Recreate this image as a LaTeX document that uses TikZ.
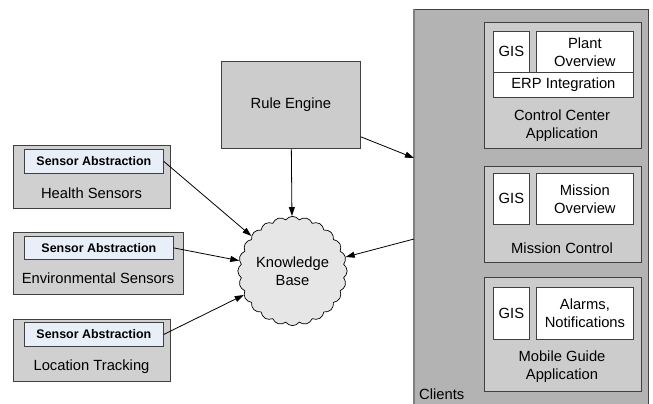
\documentclass[tikz,border=0pt]{standalone}
\usepackage{fontspec}
\setmainfont{Liberation Sans}
\usepackage{tikz}
\usetikzlibrary{shapes.symbols, arrows.meta, positioning}
\definecolor{PanelGray}{HTML}{B3B3B3}
\definecolor{BoxGray}{HTML}{CCCCCC}
\definecolor{SensGray}{HTML}{D0D0D0}
\definecolor{CloudGray}{HTML}{E6E6E6}
\definecolor{AbstrBlue}{HTML}{E9EFF9}
\definecolor{EdgeGray}{HTML}{404040}

\begin{document}
\begin{tikzpicture}[x=1bp, y=-1bp,
  box/.style={rectangle, draw=EdgeGray, fill=BoxGray, line width=0.8bp,
    inner sep=0pt, anchor=north west},
  sens/.style={box, fill=SensGray},
  abstr/.style={box, fill=AbstrBlue, font=\fontsize{12.5}{15}\selectfont\bfseries},
  part/.style={box, fill=white, font=\fontsize{14.8}{18}\selectfont, align=center},
  lbl/.style={font=\fontsize{14.8}{18}\selectfont, align=center, inner sep=0pt},
  line/.style={-{Triangle[length=9bp, width=6bp]}, line width=0.8bp, color=black}
]
\useasboundingbox (0,0) rectangle (653,403);

% clients panel
\node[box, fill=PanelGray, minimum width=234bp, minimum height=400bp] (cl) at (414,9) {};
\draw[line width=1.6bp, color=gray] (cl.north west) -- (cl.south west);
\node[lbl, anchor=base west] (cll) at (419,399) {Clients};

\node[box, minimum width=157bp, minimum height=126bp] (cc)  at (484,22) {};
\node[part, minimum width=36bp, minimum height=41bp]  (cc1) at (493,31) {GIS};
\node[part, minimum width=97bp, minimum height=41bp]  (cc2) at (536,31) {Plant\\Overview};
\node[part, minimum width=140bp, minimum height=25bp] (cc3) at (493,72) {ERP Integration};
\node[lbl] (ccl) at (562,126) {Control Center\\Application};

\node[box, minimum width=157bp, minimum height=96bp] (mc)  at (484,166) {};
\node[part, minimum width=36bp, minimum height=51bp] (mc1) at (493,173) {GIS};
\node[part, minimum width=97bp, minimum height=51bp] (mc2) at (536,173) {Mission\\Overview};
\node[lbl] (mcl) at (562,248) {Mission Control};

\node[box, minimum width=157bp, minimum height=114bp] (mg)  at (484,277) {};
\node[part, minimum width=36bp, minimum height=52bp] (mg1) at (493,287) {GIS};
\node[part, minimum width=97bp, minimum height=52bp] (mg2) at (536,287) {Alarms,\\Notifications};
\node[lbl] (mgl) at (562,367) {Mobile Guide\\Application};

% sensors
\node[sens, minimum width=157bp, minimum height=63bp] (hs)  at (13,145) {};
\node[abstr, minimum width=139bp, minimum height=24bp] (hsa) at (24,149) {Sensor Abstraction};
\node[lbl] (hsl) at (91.5,193) {Health Sensors};

\node[sens, minimum width=170bp, minimum height=62bp] (es)  at (13,232) {};
\node[abstr, minimum width=149bp, minimum height=23bp] (esa) at (24,236) {Sensor Abstraction};
\node[lbl] (esl) at (98,278) {Environmental Sensors};

\node[sens, minimum width=157bp, minimum height=62bp] (ls)  at (13,319) {};
\node[abstr, minimum width=139bp, minimum height=24bp] (lsa) at (24,322) {Sensor Abstraction};
\node[lbl] (lsl) at (91.5,367) {Location Tracking};

% rule engine and knowledge base
\node[box, minimum width=139bp, minimum height=87bp, lbl, anchor=north west] (re) at (221,61) {Rule Engine};
\node[cloud, cloud puffs=24, cloud puff arc=110, draw=black, fill=CloudGray,
  line width=0.7bp, minimum width=107bp, minimum height=102bp, inner sep=0pt,
  lbl] (kb) at (292.5,271) {Knowledge\\Base};

\draw[line] (hsa.east) -- (kb);
\draw[line] (esa.east) -- (kb);
\draw[line] (lsa.east) -- (kb);
\draw[line] (re) -- (kb);
\draw[line] ([yshift=12bp]re.south east) -- ([yshift=-149bp]cl.north west);
\draw[line] ([yshift=-230bp]cl.north west) -- (kb);
\end{tikzpicture}
\end{document}
